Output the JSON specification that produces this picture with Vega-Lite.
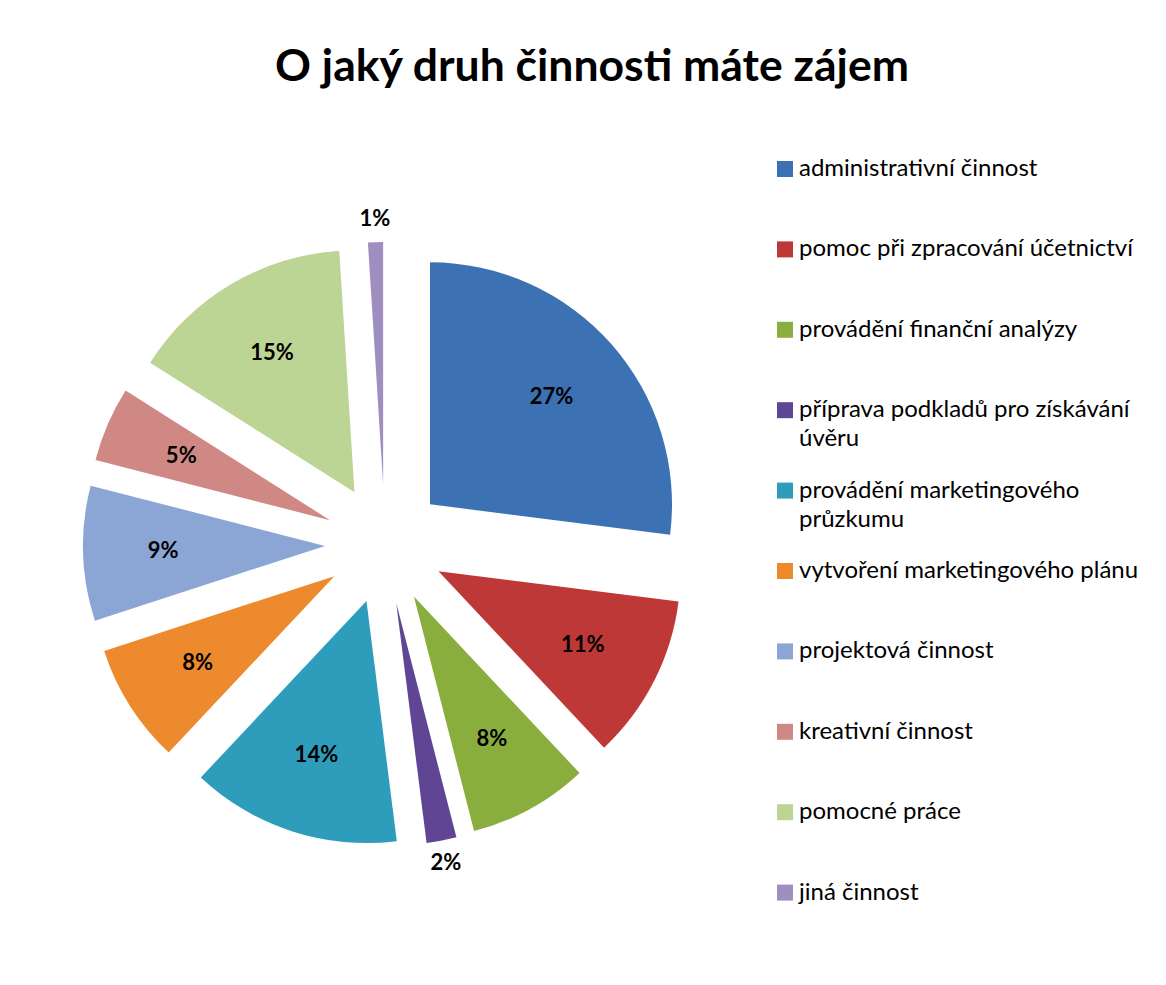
{
  "$schema": "https://vega.github.io/schema/vega-lite/v6.json",
  "width": 770,
  "height": 778,
  "autosize": "none",
  "padding": {"left": 0, "top": 155, "right": 396, "bottom": 52},
  "background": "white",
  "title": {
    "text": "O jaký druh činnosti máte zájem",
    "font": "Lato",
    "fontSize": 44.5,
    "fontWeight": "bold",
    "color": "black",
    "anchor": "middle",
    "frame": "group",
    "dx": 207,
    "offset": 30,
    "baseline": "alphabetic"
  },
  "config": {
    "view": {"stroke": null},
    "style": {"guide-label": {"lineHeight": 29}},
    "legend": {
      "title": null,
      "orient": "right",
      "offset": 1,
      "padding": 2,
      "symbolType": "square",
      "symbolSize": 256,
      "symbolStrokeWidth": 0,
      "labelFont": "Lato",
      "labelFontSize": 24,
      "labelColor": "black",
      "labelLimit": 420,
      "labelOffset": 2,
      "rowPadding": 27.4
    }
  },
  "data": {
    "values": [
      {"category": "administrativní činnost", "value": 27, "order": 1},
      {"category": "pomoc při zpracování účetnictví", "value": 11, "order": 2},
      {"category": "provádění finanční analýzy", "value": 8, "order": 3},
      {"category": "příprava podkladů pro získávání úvěru", "value": 2, "order": 4},
      {"category": "provádění marketingového průzkumu", "value": 14, "order": 5},
      {"category": "vytvoření marketingového plánu", "value": 8, "order": 6},
      {"category": "projektová činnost", "value": 9, "order": 7},
      {"category": "kreativní činnost", "value": 5, "order": 8},
      {"category": "pomocné práce", "value": 15, "order": 9},
      {"category": "jiná činnost", "value": 1, "order": 10}
    ]
  },
  "transform": [
    {"stack": "value", "groupby": [], "sort": [{"field": "order", "order": "ascending"}], "as": ["v0", "v1"]},
    {"calculate": "(datum.v0 + datum.v1) / 2", "as": "mid"},
    {"calculate": "sin(datum.mid / 100 * 2 * PI)", "as": "ex"},
    {"calculate": "cos(datum.mid / 100 * 2 * PI)", "as": "ey"},
    {"calculate": "datum.value + '%'", "as": "label"}
  ],
  "layer": [
    {
      "mark": {"type": "arc", "radius": 242},
      "encoding": {
        "theta": {"field": "v0", "type": "quantitative", "stack": null, "scale": {"domain": [0, 100]}},
        "theta2": {"field": "v1"},
        "x": {"field": "ex", "type": "quantitative", "axis": null, "scale": {"domain": [-6.4167, 6.4167], "nice": false, "zero": false}},
        "y": {"field": "ey", "type": "quantitative", "axis": null, "scale": {"domain": [-6.4833, 6.4833], "nice": false, "zero": false}},
        "color": {
          "field": "category",
          "type": "nominal",
          "scale": {
            "domain": [
              "administrativní činnost",
              "pomoc při zpracování účetnictví",
              "provádění finanční analýzy",
              "příprava podkladů pro získávání úvěru",
              "provádění marketingového průzkumu",
              "vytvoření marketingového plánu",
              "projektová činnost",
              "kreativní činnost",
              "pomocné práce",
              "jiná činnost"
            ],
            "range": ["#3C72B4", "#BE3838", "#8AAE3E", "#5F4594", "#2E9DBC", "#EE8A2E", "#8BA6D4", "#D08884", "#BCD595", "#9E8FC0"]
          },
          "legend": {
            "labelExpr": "datum.label == 'příprava podkladů pro získávání úvěru' ? ['příprava podkladů pro získávání', 'úvěru'] : datum.label == 'provádění marketingového průzkumu' ? ['provádění marketingového', 'průzkumu'] : [datum.label, '']"
          }
        }
      }
    },
    {
      "transform": [{"filter": "datum.value >= 3"}],
      "mark": {"type": "text", "radius": 222, "font": "Lato", "fontSize": 22, "fontWeight": "bold", "color": "black"},
      "encoding": {
        "theta": {"field": "mid", "type": "quantitative", "stack": null, "scale": {"domain": [0, 100]}},
        "text": {"field": "label"}
      }
    },
    {
      "transform": [{"filter": "datum.value < 3"}],
      "mark": {"type": "text", "radius": 325, "font": "Lato", "fontSize": 22, "fontWeight": "bold", "color": "black"},
      "encoding": {
        "theta": {"field": "mid", "type": "quantitative", "stack": null, "scale": {"domain": [0, 100]}},
        "text": {"field": "label"}
      }
    }
  ]
}
